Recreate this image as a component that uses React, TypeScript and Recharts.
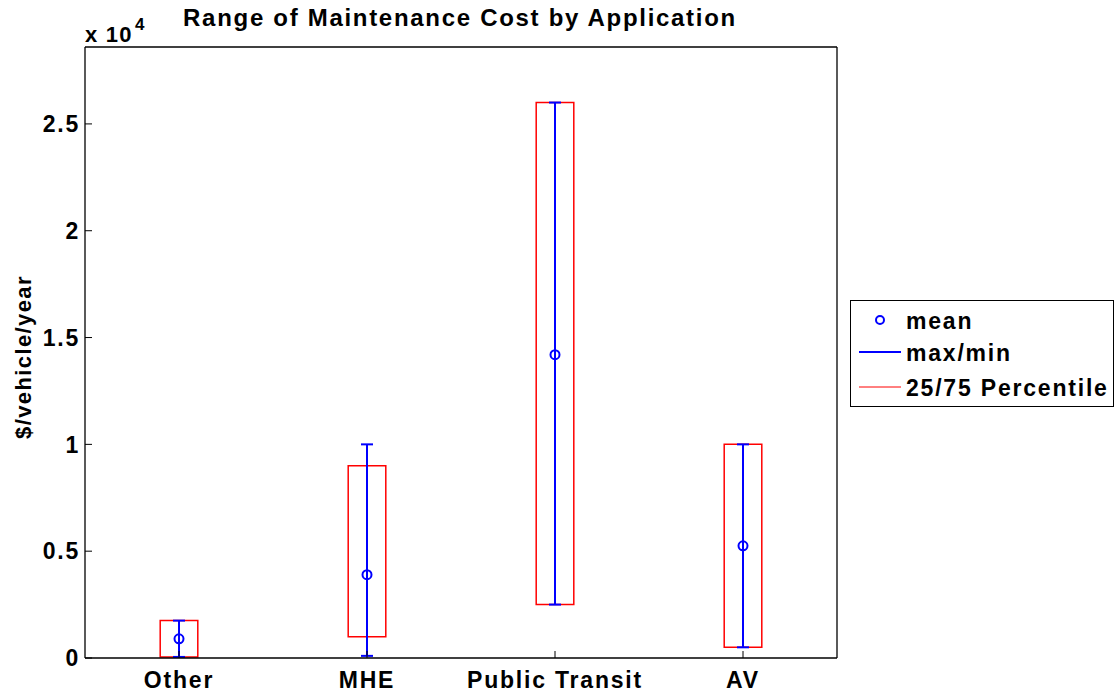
import React from "react";
import {
  ComposedChart,
  Scatter,
  XAxis,
  YAxis,
  ErrorBar,
  ReferenceArea,
  Legend,
} from "recharts";

// values, $/vehicle/year
const categories = ["Other", "MHE", "Public Transit", "AV"];
const meanCost = [900, 3900, 14200, 5250];
const maxCost = [1750, 10000, 26000, 10000];
const minCost = [50, 100, 2500, 500];
const p25Cost = [50, 1000, 2500, 500];
const p75Cost = [1750, 9000, 26000, 10000];
const xTicks = [1, 2, 3, 4];
const yTicks = [0, 5000, 10000, 15000, 20000, 25000];
const yMax = 28600;

const FONT = '"Liberation Sans", Arial, Helvetica, sans-serif';
const BLUE = "#0000ff";
const RED = "#ff0000";
const BOX_HALF = 0.1;

const data = categories.map((name, i) => ({
  x: i + 1,
  name,
  mean: meanCost[i],
  range: [meanCost[i] - minCost[i], maxCost[i] - meanCost[i]],
  p25: p25Cost[i],
  p75: p75Cost[i],
}));

const tickStyle = {
  fill: "#000",
  fontSize: 23,
  fontWeight: "bold",
  letterSpacing: 1.8,
};

function MeanMarker(props: any) {
  return (
    <circle
      cx={props.cx}
      cy={props.cy}
      r={4.5}
      fill="none"
      stroke={BLUE}
      strokeWidth={2}
    />
  );
}

function LegendBox() {
  const text = {
    fontSize: 23,
    fontWeight: "bold" as const,
    letterSpacing: 1.8,
    fill: "#000",
  };
  return (
    <svg width={264} height={107} style={{ display: "block" }}>
      <rect x={0.5} y={0.5} width={263} height={106} fill="#fff" stroke="#000" />
      <circle cx={30} cy={20} r={4} fill="none" stroke={BLUE} strokeWidth={2} />
      <text x={56} y={29} {...text}>mean</text>
      <line x1={9} x2={51} y1={52} y2={52} stroke={BLUE} strokeWidth={2} />
      <text x={56} y={61} {...text}>max/min</text>
      <line x1={9} x2={51} y1={87} y2={87} stroke={RED} strokeWidth={1} />
      <text x={56} y={96} {...text}>25/75 Percentile</text>
    </svg>
  );
}

export default function App() {
  return (
    <div
      style={{
        position: "absolute",
        left: 0,
        top: 0,
        width: 1115,
        height: 698,
        background: "#fff",
        fontFamily: FONT,
      }}
    >
      <ComposedChart
        width={1115}
        height={698}
        data={data}
        margin={{ top: 37, right: 268, bottom: 10, left: 25 }}
      >
        <XAxis
          xAxisId="bottom"
          type="number"
          dataKey="x"
          domain={[0.5, 4.5]}
          ticks={xTicks}
          interval={0}
          allowDataOverflow
          height={30}
          tickFormatter={(v: number) => categories[v - 1]}
          tick={tickStyle}
          tickSize={-7}
          tickMargin={21}
          axisLine={{ stroke: "#000", strokeWidth: 1.3 }}
          tickLine={{ stroke: "#000" }}
        />
        <XAxis
          xAxisId="top"
          orientation="top"
          type="number"
          domain={[0.5, 4.5]}
          ticks={xTicks}
          interval={0}
          allowDataOverflow
          height={10}
          tick={false}
          tickSize={-7}
          axisLine={{ stroke: "#000", strokeWidth: 1.3 }}
          tickLine={{ stroke: "#000" }}
        />
        <YAxis
          yAxisId="left"
          type="number"
          domain={[0, yMax]}
          ticks={yTicks}
          interval={0}
          allowDataOverflow
          width={60}
          tickFormatter={(v: number) => String(v / 10000)}
          tick={tickStyle}
          tickSize={-7}
          tickMargin={12}
          axisLine={{ stroke: "#000", strokeWidth: 1.3 }}
          tickLine={{ stroke: "#000" }}
        />
        <YAxis
          yAxisId="right"
          orientation="right"
          type="number"
          domain={[0, yMax]}
          ticks={yTicks}
          interval={0}
          allowDataOverflow
          width={10}
          tick={false}
          tickSize={-7}
          axisLine={{ stroke: "#000", strokeWidth: 1.3 }}
          tickLine={{ stroke: "#000" }}
        />

        {data.map((d) => (
          <ReferenceArea
            key={d.name}
            xAxisId="bottom"
            yAxisId="left"
            x1={d.x - BOX_HALF}
            x2={d.x + BOX_HALF}
            y1={d.p25}
            y2={d.p75}
            fill="none"
            fillOpacity={0}
            stroke={RED}
            strokeWidth={1.5}
            strokeOpacity={1}
            ifOverflow="visible"
          />
        ))}

        <Scatter
          xAxisId="bottom"
          yAxisId="left"
          dataKey="mean"
          shape={<MeanMarker />}
          isAnimationActive={false}
        >
          <ErrorBar
            dataKey="range"
            direction="y"
            width={6}
            stroke={BLUE}
            strokeWidth={2}
            isAnimationActive={false}
          />
        </Scatter>

        <Legend
          layout="vertical"
          align="center"
          verticalAlign="middle"
          wrapperStyle={{ left: 850, top: 300, width: 264, height: 107 }}
          content={() => <LegendBox />}
        />
      </ComposedChart>

      <svg
        width={1115}
        height={698}
        style={{ position: "absolute", left: 0, top: 0, pointerEvents: "none" }}
      >
        <text
          x={460}
          y={26}
          textAnchor="middle"
          fontSize={24}
          fontWeight="bold"
          letterSpacing={1.7}
          fill="#000"
        >
          Range of Maintenance Cost by Application
        </text>
        <text x={85} y={42} fontSize={22} fontWeight="bold" letterSpacing={1.2} fill="#000">
          x 10
        </text>
        <text x={135} y={30} fontSize={17} fontWeight="bold" fill="#000">
          4
        </text>
        <text
          x={31}
          y={357}
          transform="rotate(-90 31 357)"
          textAnchor="middle"
          fontSize={22}
          fontWeight="bold"
          letterSpacing={1.4}
          fill="#000"
        >
          $/vehicle/year
        </text>
      </svg>
    </div>
  );
}
